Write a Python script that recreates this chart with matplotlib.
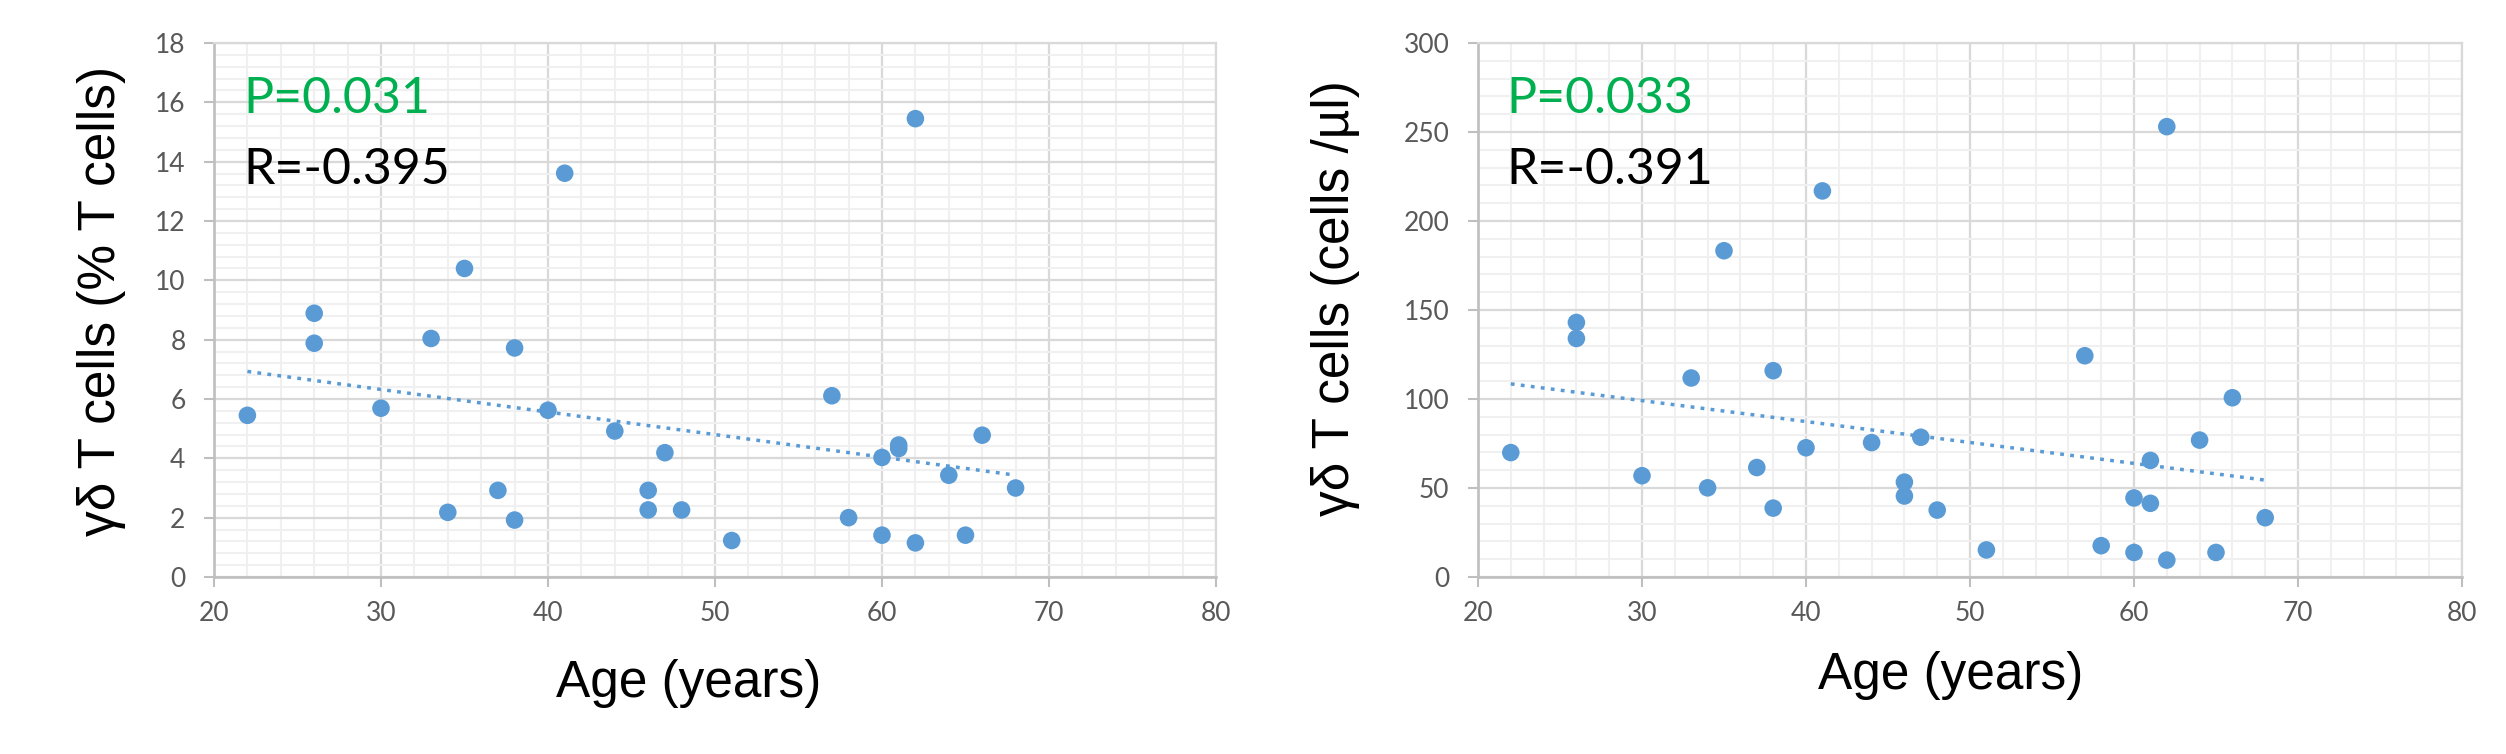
import matplotlib
matplotlib.use("Agg")
import matplotlib.pyplot as plt
from matplotlib.ticker import MultipleLocator
import numpy as np

# ---- data ----
ages = [22, 26, 26, 30, 33, 34, 35, 37, 38, 38, 40, 41, 44, 46, 46, 47, 48, 51,
        57, 58, 60, 60, 61, 61, 62, 62, 64, 65, 66, 68]
gd_pct = [5.45, 8.89, 7.88, 5.69, 8.04, 2.18, 10.4, 2.92, 7.72, 1.92, 5.62, 13.61,
          4.92, 2.92, 2.26, 4.19, 2.26, 1.23, 6.11, 2.0, 4.03, 1.41, 4.45, 4.33,
          15.45, 1.15, 3.43, 1.41, 4.78, 3.0]
gd_abs = [69.9, 143, 134, 56.9, 111.8, 50.1, 183.3, 61.5, 115.9, 38.7, 72.6, 216.9,
          75.5, 53.3, 45.5, 78.5, 37.6, 15.2, 124.3, 17.6, 44.4, 13.8, 65.5, 41.4,
          253, 9.5, 76.9, 13.8, 100.7, 33.3]
p_texts = ["P=0.031", "P=0.033"]
r_texts = ["R=-0.395", "R=-0.391"]
ylabels = ["γδ T cells (% T cells)", "γδ T cells (cells /µl)"]
xlabel = "Age (years)"
ylims = [(0, 18), (0, 300)]
ymajor = [2, 50]
yminor = [0.4, 10]

W, H = 2506, 754
fig = plt.figure(figsize=(W / 100, H / 100), dpi=100)

def px_axes(x0, x1, ytop, ybot):
    return [x0 / W, (H - ybot) / H, (x1 - x0) / W, (ybot - ytop) / H]

axes_px = [(214, 1216, 43, 577), (1478, 2462, 43, 577)]
ylabel_coords = [(-0.0878, 0.517), (-0.120, 0.522)]
xlabel_coords = [(0.474, -0.2247), (0.480, -0.2097)]

blue = "#5B9BD5"
green = "#00B050"
tick_gray = "#595959"

for i, yvals in enumerate([gd_pct, gd_abs]):
    ax = fig.add_axes(px_axes(*axes_px[i]))
    ax.set_xlim(20, 80)
    ax.set_ylim(*ylims[i])
    ax.xaxis.set_major_locator(MultipleLocator(10))
    ax.xaxis.set_minor_locator(MultipleLocator(2))
    ax.yaxis.set_major_locator(MultipleLocator(ymajor[i]))
    ax.yaxis.set_minor_locator(MultipleLocator(yminor[i]))
    ax.set_axisbelow(True)
    ax.grid(which="minor", color="#f0f0f0", lw=1.5, zorder=0)
    ax.grid(which="major", color="#d9d9d9", lw=1.6, zorder=0.5)
    for s in ["left", "bottom"]:
        ax.spines[s].set_color("#bfbfbf")
        ax.spines[s].set_linewidth(1.9)
    for s in ["top", "right"]:
        ax.spines[s].set_color("#d9d9d9")
        ax.spines[s].set_linewidth(1.6)
    ax.tick_params(which="minor", length=0)
    ax.tick_params(which="major", length=7.5, width=1.5, color="#bfbfbf",
                   labelsize=19, labelcolor=tick_gray)
    ax.tick_params(axis="y", pad=13)
    ax.tick_params(axis="x", pad=10)
    for lab in ax.get_xticklabels() + ax.get_yticklabels():
        lab.set_fontfamily(["Lato", "DejaVu Sans"])

    x = np.array(ages, dtype=float)
    y = np.array(yvals, dtype=float)
    ax.scatter(x, y, s=160, color=blue, edgecolors="none", zorder=3)
    k, b = np.polyfit(x, y, 1)
    xs = np.array([x.min(), x.max()])
    ax.plot(xs, k * xs + b, color=blue, lw=2.5, linestyle=(0, (1.1, 1.8)),
            zorder=2)

    ax.text(0.029, 0.869, p_texts[i], transform=ax.transAxes, color=green,
            fontsize=36, family=["Lato", "DejaVu Sans"], va="baseline", ha="left")
    ax.text(0.029, 0.736, r_texts[i], transform=ax.transAxes, color="black",
            fontsize=36, family=["Lato", "DejaVu Sans"], va="baseline", ha="left")

    ax.set_ylabel(ylabels[i], fontsize=37, family=["Liberation Sans", "DejaVu Sans"],
                  color="black")
    ax.yaxis.set_label_coords(*ylabel_coords[i])
    ax.set_xlabel(xlabel, fontsize=37, family=["Liberation Sans", "DejaVu Sans"],
                  color="black")
    ax.xaxis.set_label_coords(*xlabel_coords[i])
    ax.xaxis.label.set_va("baseline")

fig.savefig("out.png", dpi=100, facecolor="white")
